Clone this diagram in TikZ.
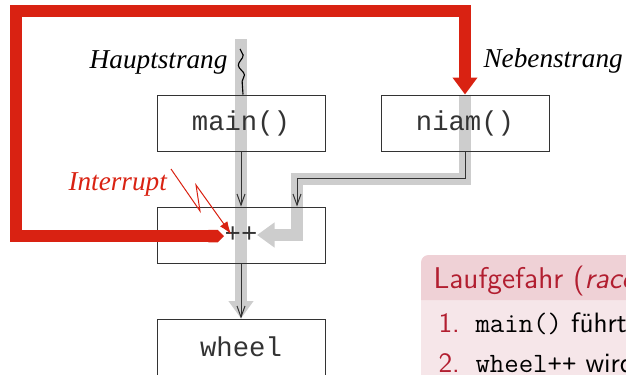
\documentclass[tikz,border=0pt]{standalone}
\usepackage{fontspec}
\newfontfamily\timesfont{Liberation Serif}
\newfontfamily\courfont{Liberation Mono}
\usetikzlibrary{arrows.meta,calc,decorations.pathmorphing,backgrounds}
\definecolor{intred}{RGB}{217,34,18}
\definecolor{bandgray}{RGB}{205,205,205}
\definecolor{blockhead}{RGB}{239,209,214}
\definecolor{blockbody}{RGB}{246,230,233}
\definecolor{blocktitle}{RGB}{178,30,48}

\begin{document}
\begin{tikzpicture}
  [x=0.4pt,y=-0.4pt,
    box/.style={draw=black!80,line width=0.4pt,minimum width=67.2pt,minimum height=22.4pt,inner sep=0pt,text=black!80,font=\courfont\fontsize{10.9}{12}\selectfont},
    strang/.style={inner sep=0pt,anchor=base west,font=\timesfont\itshape\fontsize{10.9}{12}\selectfont},
    band/.style={draw=bandgray,line width=4.8pt,line join=miter,-{Triangle[width=9.6pt,length=7pt]}},
    flow/.style={draw=black!80,line width=0.4pt,-{Straight Barb[length=4.4pt,width=3.2pt]}},
    interrupt/.style={draw=intred,line width=5pt,line join=miter,{Triangle Cap[]}-{Triangle[width=9.6pt,length=6.8pt]}},
    blocktext/.style={inner sep=0pt,anchor=base west,font=\sffamily\fontsize{11.2}{13}\selectfont},
  ]
  \useasboundingbox (0,0) rectangle (626,374);
  \clip (0,0) rectangle (626,374);

  \node[box] (main) at (241,123) {main()};
  \node[box] (niam) at (465,123) {niam()};
  \node[box] (inc) at (241,235) {++};
  \node[box] (wheel) at (241,347) {wheel};
  \coordinate (htop) at (241,39);
  \coordinate (hwave) at (240,49);
  \coordinate (zap) at (171,169);

  \begin{scope}[on background layer]
    \draw[band] (htop) -- (wheel.north);
    \draw[band] (niam.north) -- ++(0,84) -| ($(inc.center)+(56,0)$) -- ($(inc.center)+(16,0)$);
  \end{scope}

  \draw[line width=0.45pt,decorate,decoration={snake,amplitude=1.1pt,segment length=8pt,post length=4pt}] (hwave) -- ($(main.north)+(2,0)$);
  \draw[flow] (main.south) -- (inc.north);
  \draw[flow] (inc.south) -- (wheel.north);
  \draw[flow] (niam.south) -- ++(0,27) -| ($(inc.north)+(56,0)$);

  \draw[interrupt] ($(inc.center)+(-17,1)$) -| (16,11) -| (niam.north);
  \draw[draw=intred,line width=0.4pt,-{Latex[length=5pt,width=3.6pt]}] (zap) -- ++(29,42) -- ++(-4,-26) -- ($(inc.center)+(-10,-1)$);

  \node[strang,anchor=base east] (haupt) at (228,68) {Hauptstrang};
  \node[strang] (neben) at (483,67) {Nebenstrang};
  \node[strang,text=intred] (intr) at (68,190) {Interrupt};

  \fill[blockbody] (421,300) rectangle (640,380);
  \fill[blockhead] (421,300) [rounded corners=3pt] -- (421,255) [sharp corners] -- (640,255) -- (640,300) -- cycle;
  \node[blocktext,text=blocktitle,font=\sffamily\fontsize{12}{14}\selectfont] (title) at (433,288) {Laufgefahr (\textit{race condition})};
  \node[blocktext,text=blocktitle] (num1) at (438,332) {1.};
  \node[blocktext] (item1) at (475,332) {\texttt{main()} führt};
  \node[blocktext,text=blocktitle] (num2) at (438,372) {2.};
  \node[blocktext] (item2) at (475,372) {\texttt{wheel++} wird};
\end{tikzpicture}
\end{document}
